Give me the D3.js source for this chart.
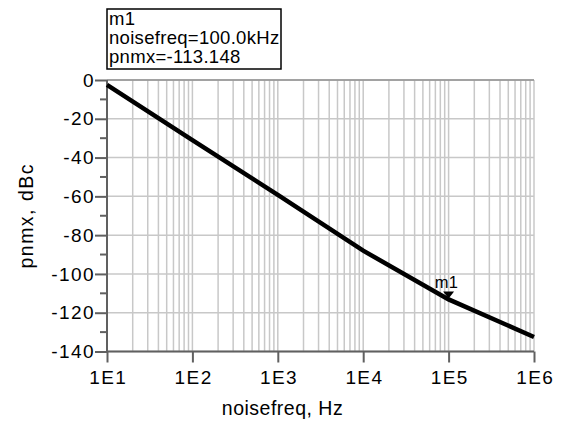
<!DOCTYPE html>
<html lang="en">
<head>
    <meta charset="UTF-8">
    <title>pnmx vs noisefreq</title>
    <script src="https://cdnjs.cloudflare.com/ajax/libs/d3/7.8.5/d3.min.js"></script>
    <style>
        body { margin: 0; background: #fff; }
        svg { font-family: "Liberation Sans", Arial, sans-serif; }
        .grid line { stroke: #c8c8c8; stroke-width: 1.5px; }
        .axis path, .axis line { stroke: #606060; stroke-width: 2px; }
        .axis text { font-size: 19px; fill: #000; letter-spacing: 1.4px; font-family: "Liberation Sans", Arial, sans-serif; }
    </style>
</head>
<body>
    <div id="chart"></div>

    <script>
        // data
        const noisefreq = [1e1, 1e2, 1e3, 1e4, 1e5, 1e6];
        const pnmx = [-2.5, -31, -59.2, -88, -113.148, -132.5];
        const yTicks = [0, -20, -40, -60, -80, -100, -120, -140];
        const xTickLabels = ["1E1", "1E2", "1E3", "1E4", "1E5", "1E6"];
        const markerLines = ["m1", "noisefreq=100.0kHz", "pnmx=-113.148"];

        const width = 565, height = 423;
        const mLeft = 107, mRight = 534, mTop = 80, mBottom = 351.5;

        const svg = d3.select("#chart").append("svg")
            .attr("width", width)
            .attr("height", height);

        const x = d3.scaleLog().domain([1e1, 1e6]).range([mLeft, mRight]);
        const y = d3.scaleLinear().domain([-140, 0]).range([mBottom, mTop]);

        // vertical grid: every 1..9 per decade
        const minor = [];
        for (let d = 1; d < 6; d++) {
            for (let k = 1; k <= 9; k++) minor.push(k * Math.pow(10, d));
        }
        minor.push(1e6);

        const grid = svg.append("g").attr("class", "grid");
        grid.selectAll(".v").data(minor).enter().append("line")
            .attr("x1", d => x(d)).attr("x2", d => x(d))
            .attr("y1", mTop).attr("y2", mBottom);
        grid.selectAll(".h").data(yTicks).enter().append("line")
            .attr("x1", mLeft).attr("x2", mRight)
            .attr("y1", d => y(d)).attr("y2", d => y(d));

        // top edge a bit darker
        svg.append("line")
            .attr("x1", mLeft).attr("x2", mRight)
            .attr("y1", mTop).attr("y2", mTop)
            .attr("stroke", "#909090").attr("stroke-width", 1.5);

        // y axis with minor ticks in between
        const yAxis = svg.append("g").attr("class", "axis")
            .attr("transform", `translate(${mLeft},0)`)
            .call(d3.axisLeft(y).tickValues(yTicks).tickSize(12).tickPadding(0).tickFormat(d => String(d)));
        yAxis.select(".domain").remove();
        yAxis.append("line").attr("x1", 0).attr("x2", 0).attr("y1", mTop).attr("y2", mBottom);
        yAxis.selectAll(".minor").data(d3.range(-130, 0, 20)).enter().append("line")
            .attr("x1", -7).attr("x2", 0)
            .attr("y1", d => y(d)).attr("y2", d => y(d));

        // x axis
        const xAxis = svg.append("g").attr("class", "axis")
            .attr("transform", `translate(0,${mBottom})`)
            .call(d3.axisBottom(x).tickValues(noisefreq).tickSize(11).tickPadding(8)
                .tickFormat((d, i) => xTickLabels[i]));
        xAxis.select(".domain").remove();
        xAxis.append("line").attr("x1", mLeft).attr("x2", mRight).attr("y1", 0).attr("y2", 0);
        xAxis.selectAll(".tick text").attr("dx", "0.7px");

        // curve
        const pts = noisefreq.map((f, i) => [f, pnmx[i]]);
        svg.append("path")
            .datum(pts)
            .attr("fill", "none")
            .attr("stroke", "#000")
            .attr("stroke-width", 4.5)
            .attr("d", d3.line().x(d => x(d[0])).y(d => y(d[1])));

        // marker m1
        const mx = x(noisefreq[4]), my = y(pnmx[4]);
        svg.append("path")
            .attr("d", `M${mx - 5.5},${my - 8}L${mx + 5.5},${my - 8}L${mx},${my - 1}Z`)
            .attr("fill", "#000");
        svg.append("text")
            .attr("x", mx - 2).attr("y", my - 11)
            .attr("text-anchor", "middle")
            .style("font-size", "16.5px")
            .style("letter-spacing", "0.3px")
            .text("m1");

        // marker readout box
        svg.append("rect")
            .attr("x", 107).attr("y", 9)
            .attr("width", 174).attr("height", 60)
            .attr("fill", "#fff")
            .attr("stroke", "#000")
            .attr("stroke-width", 1.5);
        svg.selectAll(".mtext").data(markerLines).enter().append("text")
            .attr("x", 109)
            .attr("y", (d, i) => 25 + i * 19.2)
            .style("font-size", "18.5px")
            .style("letter-spacing", "0.3px")
            .text(d => d);

        // axis titles
        svg.append("text")
            .attr("x", width / 2).attr("y", 415)
            .attr("text-anchor", "middle")
            .style("font-size", "19.5px")
            .style("letter-spacing", "0.5px")
            .text("noisefreq, Hz");
        svg.append("text")
            .attr("transform", `translate(33,${(mTop + mBottom) / 2}) rotate(-90)`)
            .attr("text-anchor", "middle")
            .style("font-size", "19.5px")
            .style("letter-spacing", "1.5px")
            .text("pnmx, dBc");
    </script>
</body>
</html>
